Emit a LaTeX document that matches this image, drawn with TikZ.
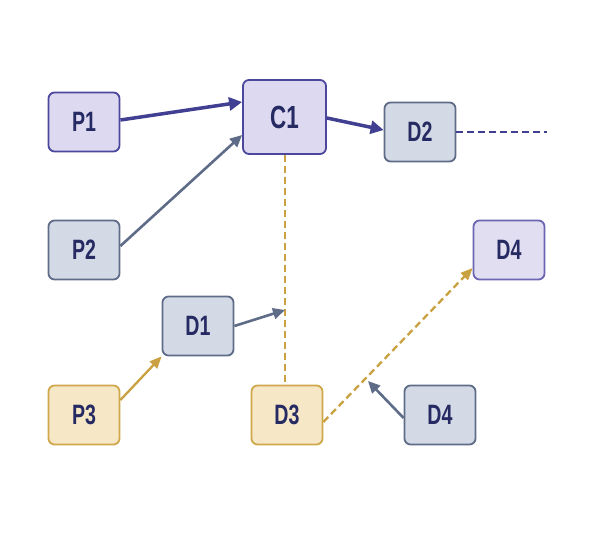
\documentclass[tikz,border=0pt]{standalone}
\usepackage{fontspec}
\setmainfont{Liberation Sans}[FakeStretch=0.70]
\usetikzlibrary{arrows.meta}
\definecolor{navytext}{HTML}{262A63}
\definecolor{lavfill}{HTML}{DDD9F0}
\definecolor{lavline}{HTML}{4B479C}
\definecolor{navyarrow}{HTML}{413F92}
\definecolor{slatefill}{HTML}{D4DAE5}
\definecolor{slateline}{HTML}{5E6C88}
\definecolor{goldfill}{HTML}{F6E7C6}
\definecolor{goldline}{HTML}{CFA84C}
\definecolor{goldarrow}{HTML}{C9A140}
\definecolor{purpfill}{HTML}{E2DEF1}
\definecolor{purpline}{HTML}{6B65B2}
\tikzset{
  box/.style={draw, line width=1.8pt, rounded corners=6pt, minimum width=71pt, minimum height=59pt,
    inner sep=0pt, text=navytext, font=\fontsize{28}{28}\selectfont\bfseries},
  lav/.style={box, fill=lavfill, draw=lavline},
  slate/.style={box, fill=slatefill, draw=slateline},
  gold/.style={box, fill=goldfill, draw=goldline},
  purp/.style={box, fill=purpfill, draw=purpline},
  navyarr/.style={draw=navyarrow, line width=3.5pt, -{Triangle[length=13pt,width=13pt]}},
  slatearr/.style={draw=slateline, line width=2.6pt, -{Triangle[length=12pt,width=11pt]}},
  goldarr/.style={draw=goldarrow, line width=2.3pt, -{Triangle[length=12pt,width=10pt]}},
  golddash/.style={draw=goldarrow, line width=1.7pt, dash pattern=on 7pt off 4pt},
}
\begin{document}
\begin{tikzpicture}[x=1pt,y=-1pt]
\useasboundingbox (0,0) rectangle (595,545);
\fill[white] (0,0) rectangle (595,545);
\node[lav] (P1) at (84,122) {P1};
\node[lav, minimum width=83pt, minimum height=74pt, font=\fontsize{32}{32}\selectfont\bfseries] (C1) at (284.5,117) {C1};
\node[slate] (D2) at (420,132) {D2};
\node[slate] (P2) at (84,250) {P2};
\node[purp] (D4a) at (509,250) {D4};
\node[slate] (D1) at (198,326) {D1};
\node[gold] (P3) at (84,415) {P3};
\node[gold] (D3) at (287,415) {D3};
\node[slate] (D4b) at (440,415) {D4};
\coordinate (Dend) at (547,132);
\coordinate (M1) at (285,310);
\coordinate (M2) at (368,381);
% connectors
\draw[golddash] (C1.south -| 285,0) -- (D3.north -| 285,0);
\draw[navyarr] (P1.east |- 0,120) -- (C1.west |- 0,102);
\draw[slatearr] (P2.east |- 0,246) -- (C1.west |- 0,135);
\draw[navyarr] (C1.east |- 0,118) -- (D2.west |- 0,130);
\draw[draw=navyarrow, line width=2.3pt, dash pattern=on 7pt off 4pt] (D2.east) -- (Dend);
\draw[slatearr] (D1.east) -- (M1);
\draw[goldarr] (P3.east |- 0,400) -- (D1.south west);
\draw[goldarr, dash pattern=on 7pt off 4pt] (D3.east |- 0,422) -- (D4a.west |- 0,268);
\draw[slatearr] (D4b.west |- 0,418) -- (M2);
\end{tikzpicture}
\end{document}
